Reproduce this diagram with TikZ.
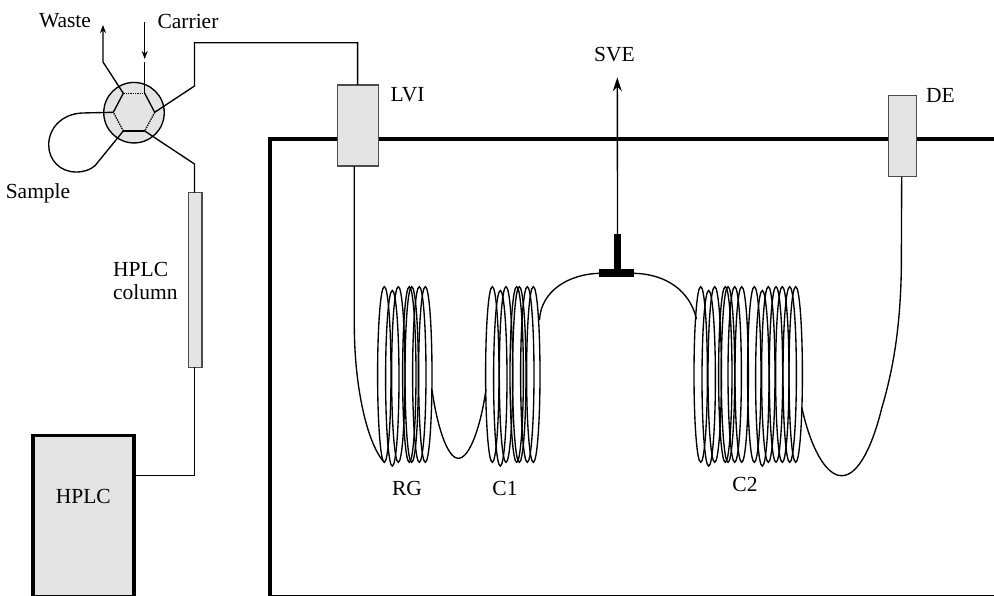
\documentclass[tikz,border=0pt]{standalone}
\usepackage{fontspec}
\setmainfont{Liberation Serif}
\usetikzlibrary{arrows.meta}

\definecolor{boxgray}{HTML}{E4E4E4}
\tikzset{
    wire/.style={line width=1.35pt},
    thickwall/.style={line width=3.8pt},
    box/.style={draw=black!70, fill=boxgray, line width=1.1pt, inner sep=0pt, outer sep=0pt},
    solidtee/.style={fill=black, inner sep=0pt, outer sep=0pt},
    label/.style={inner sep=0pt, font=\fontsize{21.5}{24}\selectfont},
    smallarrow/.style={wire, -{Stealth[length=8pt,width=6pt]}},
    bigarrow/.style={wire, -{Stealth[length=14pt,width=9pt]}}
}

\begin{document}
\begin{tikzpicture}[x=1pt,y=-1pt]
    % Граница рисунка
    \clip (0,0) rectangle (994,596);

    % Печь
    \draw[thickwall] (994,138.7) -- (269.7,138.7) -- (269.7,596.5) -- (994,596.5);

    % Блоки
    \node[box, minimum width=41pt, minimum height=81pt] (LVI) at (357.6,125.5) {};
    \node[box, minimum width=27.5pt, minimum height=81pt] (DE) at (902.4,136.3) {};
    \node[box, minimum width=13.5pt, minimum height=174.5pt] (column) at (195.2,280) {};
    \node[draw, thickwall, fill=boxgray, inner sep=0pt, minimum width=101.5pt, minimum height=161pt] (HPLC) at (83.5,516) {};

    % Кран
    \node[draw, wire, fill=boxgray, circle, inner sep=0pt, outer sep=0pt, minimum size=60.5pt] (valve) at (134,112.7) {};
    \coordinate (v1) at (123.3,93.3);
    \coordinate (v2) at (144.7,93.3);
    \coordinate (v3) at (154.7,112.3);
    \coordinate (v4) at (144.7,131);
    \coordinate (v5) at (123.3,131);
    \coordinate (v6) at (113.3,112.3);
    \draw[wire] (v1) -- (v6);
    \draw[wire] (v2) -- (v3);
    \draw[wire] (v4) -- (v5);
    \draw[wire, densely dotted] (v1) -- (v2);
    \draw[wire, densely dotted] (v3) -- (v4);
    \draw[wire, densely dotted] (v5) -- (v6);

    % Линии у крана
    \coordinate (wasteend) at (103,25);
    \coordinate (carrierstart) at (144.7,22.5);
    \coordinate (carrierend) at (144.7,59);
    \coordinate (carrierjoin) at (144.7,62);
    \draw[smallarrow] (v1) -- (103,62) -- (wasteend);
    \draw[smallarrow] (carrierstart) -- (carrierend);
    \draw[wire] (carrierjoin) -- (v2);
    \draw[wire] (v3) -- (194.5,86) -- (194.5,42.7) -- (357.6,42.7) -- (LVI.north);
    \draw[wire] (v4) -- (194.5,164) -- (194.5,192.7);
    \draw[wire] (194.5,367.3) -- (194.5,475.7) -- (134,475.7);

    % Петля
    \draw[wire] (v6) -- (82,113) .. controls (62,114) and (48.7,128) .. (48.7,145)
        .. controls (48.7,160) and (60,172) .. (76,172)
        .. controls (84,172) and (90,170) .. (95,165.7) -- (v5);

    % Катушки
    \def\coilh{87.8}
    \foreach \x/\dy in {
        384.3/0, 392.3/3.8, 398.3/0, 409.3/0, 411.7/0, 419.3/0, 425.3/0,
        492.3/0, 500.3/3.8, 506/0, 516.7/0, 519.3/0, 527.3/0, 533.3/0,
        700.7/0, 708.7/3.8, 714.7/0, 725.3/0, 728/0, 734.7/0, 741.7/0,
        754.3/0, 762.3/3.8, 768.3/0, 776/0, 782.3/0, 789.7/0, 795.7/0}
    {
        \draw[wire] (\x,374.5+\dy) ellipse [x radius=6.7, y radius=\coilh];
    }

    % Тройник
    \node[solidtee, minimum width=7.7pt, minimum height=39pt] (stem) at (617.5,253.5) {};
    \node[solidtee, minimum width=34.7pt, minimum height=8pt] (tee) at (616.7,273.3) {};
    \coordinate (sveend) at (617.3,77.3);
    \draw[bigarrow] (stem.north) -- (sveend);

    % Соединения катушек
    \coordinate (lviout) at (354.3,166);
    \coordinate (deout) at (901.7,177);
    \draw[wire] (lviout) -- (354.3,326) .. controls (354.5,390) and (368,445) .. (384.3,462.3);
    \draw[wire] (432,390) .. controls (437,425) and (447,458.3) .. (458.3,458.3)
        .. controls (470,458.3) and (481,425) .. (486,389.3);
    \draw[wire] (539.5,320) .. controls (541,290) and (570,274) .. (tee.west);
    \draw[wire] (tee.east) .. controls (665,274) and (690,290) .. (696.5,319.3);
    \draw[wire] (802,408.3) .. controls (810,445) and (825,475.7) .. (841.7,475.7)
        .. controls (860,475.7) and (874,440) .. (881.7,408.3)
        .. controls (893,370) and (900,330) .. (901.3,272) -- (deout);

    % Подписи
    \node[label] (waste) at (65,21) {Waste};
    \node[label] (carrier) at (188,21) {Carrier};
    \node[label] (sample) at (38,193) {Sample};
    \node[label, anchor=west] (hplctop) at (113,269) {HPLC};
    \node[label, anchor=west] (columntext) at (113,292) {column};
    \node[label] (hplctext) at (83.3,496) {HPLC};
    \node[label] (lvitext) at (407.5,95) {LVI};
    \node[label] (svetext) at (614.5,55) {SVE};
    \node[label] (detext) at (940.5,95) {DE};
    \node[label] (rgtext) at (407,488) {RG};
    \node[label] (c1text) at (505,488) {C1};
    \node[label] (c2text) at (745,484) {C2};
\end{tikzpicture}
\end{document}
